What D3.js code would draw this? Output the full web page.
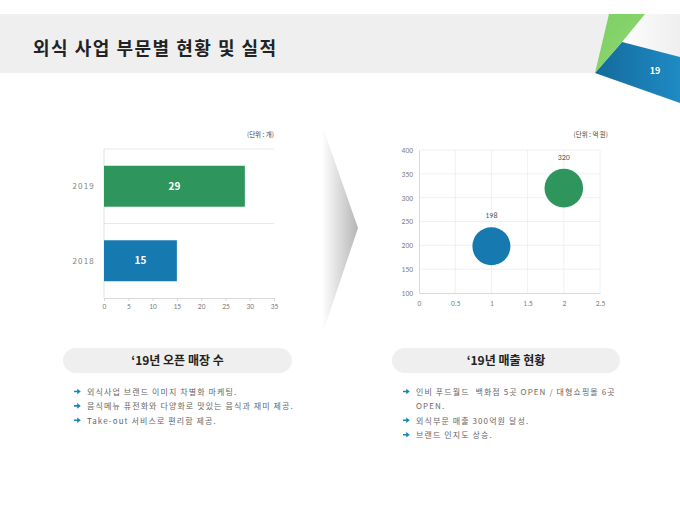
<!DOCTYPE html>
<html>
<head>
<meta charset="utf-8">
<script src="https://cdn.jsdelivr.net/npm/d3@7"></script>
<style>
  body { margin: 0; background: #fff; }
  svg { display: block; font-family: "Noto Sans CJK KR", "Noto Sans", sans-serif; }
  .note { white-space: pre; }
</style>
</head>
<body>
<svg id="page" width="680" height="510"></svg>
<script>
// data
const title = '외식 사업 부문별 현황 및 실적'
const pageNo = '19'

const barYears = ['2019', '2018']
const barValues = [29, 15]
const barTicks = [0, 5, 10, 15, 20, 25, 30, 35]
const barUnit = '(단위 : 개)'

const bubbleX = [1, 2]
const bubbleY = [198, 320]
const bubbleSize = [1, 1.03]
const bubbleXTicks = [0, 0.5, 1, 1.5, 2, 2.5]
const bubbleYTicks = [100, 150, 200, 250, 300, 350, 400]
const bubbleUnit = '(단위 : 억 원)'

const leftHead = '‘19년 오픈 매장 수'
const rightHead = '‘19년 매출 현황'
const leftNotes = [
  ['외식사업 브랜드 이미지 차별화 마케팅.'],
  ['음식메뉴 퓨전화와 다양화로 맛있는 음식과 재미 제공.'],
  ['Take-out 서비스로 편리함 제공.']
]
const rightNotes = [
  ['인비 푸드월드  백화점 5곳 OPEN / 대형쇼핑몰 6곳', 'OPEN.'],
  ['외식부문 매출 300억원 달성.'],
  ['브랜드 인지도 상승.']
]

const green = '#2e965c'
const blue = '#1679b0'
const colors = { '2019': green, '2018': blue }

const svg = d3.select('#page')
const defs = svg.append('defs')

// header band
svg.append('rect').attr('x', 0).attr('y', 14).attr('width', 680).attr('height', 59).attr('fill', '#efefef')
svg.append('text')
  .attr('x', 33).attr('y', 55)
  .attr('font-size', 18).attr('font-weight', 700).attr('letter-spacing', 1.5).attr('fill', '#222')
  .text(title)

// corner decoration
const shade = defs.append('linearGradient').attr('id', 'shade').attr('x1', 0).attr('y1', 0).attr('x2', 1).attr('y2', 0)
shade.append('stop').attr('offset', 0).attr('stop-color', '#ffffff').attr('stop-opacity', 0.9)
shade.append('stop').attr('offset', 1).attr('stop-color', '#ffffff').attr('stop-opacity', 0)
svg.append('polygon').attr('points', '645,14 680,14 680,57 622,42').attr('fill', 'url(#shade)')
const blueGrad = defs.append('linearGradient').attr('id', 'blueGrad').attr('x1', 0).attr('y1', 0).attr('x2', 1).attr('y2', 0)
blueGrad.append('stop').attr('offset', 0).attr('stop-color', '#136b9c')
blueGrad.append('stop').attr('offset', 1).attr('stop-color', '#1f8ac4')
svg.append('polygon').attr('points', '595,73 622,42 680,57 680,103').attr('fill', 'url(#blueGrad)')
const greenGrad = defs.append('linearGradient').attr('id', 'greenGrad').attr('x1', 0).attr('y1', 0).attr('x2', 1).attr('y2', 1)
greenGrad.append('stop').attr('offset', 0).attr('stop-color', '#7dcf65')
greenGrad.append('stop').attr('offset', 1).attr('stop-color', '#8fd870')
svg.append('polygon').attr('points', '609,14 645,14 622,42 595,73').attr('fill', 'url(#greenGrad)')
svg.append('text')
  .attr('x', 655).attr('y', 74).attr('text-anchor', 'middle')
  .attr('font-size', 9).attr('font-weight', 700).attr('fill', '#fff')
  .text(pageNo)

// chevron between charts
const chev = defs.append('linearGradient').attr('id', 'chev').attr('x1', 0).attr('y1', 0).attr('x2', 1).attr('y2', 0)
chev.append('stop').attr('offset', 0).attr('stop-color', '#ffffff')
chev.append('stop').attr('offset', 1).attr('stop-color', '#b5b5b5')
svg.append('polygon').attr('points', '322,125 358,228 322,335').attr('fill', 'url(#chev)')

// bar chart
const bx = d3.scaleLinear().domain([0, 35]).range([104, 274])
const by = d3.scaleBand().domain(barYears).range([149, 298]).paddingInner(0.45).paddingOuter(0.225)
const bar = svg.append('g')

bar.selectAll('line.grid')
  .data([149, 223.5])
  .join('line').attr('class', 'grid')
  .attr('x1', bx(0)).attr('x2', bx(35)).attr('y1', d => d).attr('y2', d => d)
  .attr('stroke', '#e3e3e3').attr('stroke-width', 0.8)

bar.append('line').attr('x1', bx(0)).attr('x2', bx(0)).attr('y1', 149).attr('y2', 298)
  .attr('stroke', '#d9d9d9').attr('stroke-width', 0.8)

const bAxis = bar.append('g').attr('transform', 'translate(0,298)')
  .call(d3.axisBottom(bx).tickValues(barTicks).tickSize(3).tickPadding(3))
bAxis.selectAll('path, line').attr('stroke', '#d9d9d9')
bAxis.selectAll('text').attr('fill', '#808080').attr('font-size', 7.5).attr('font-family', 'Calibri, "Liberation Sans", sans-serif')

bar.selectAll('rect.bar')
  .data(barYears)
  .join('rect').attr('class', 'bar')
  .attr('x', bx(0))
  .attr('y', d => by(d))
  .attr('width', (d, i) => bx(barValues[i]) - bx(0))
  .attr('height', by.bandwidth())
  .attr('fill', d => colors[d])

bar.selectAll('text.val')
  .data(barYears)
  .join('text').attr('class', 'val')
  .attr('x', (d, i) => (bx(0) + bx(barValues[i])) / 2)
  .attr('y', d => by(d) + by.bandwidth() / 2 + 3.5)
  .attr('text-anchor', 'middle').attr('font-size', 10).attr('font-weight', 700).attr('fill', '#fff')
  .text((d, i) => barValues[i])

bar.selectAll('text.cat')
  .data(barYears)
  .join('text').attr('class', 'cat')
  .attr('x', 95)
  .attr('y', d => by(d) + by.bandwidth() / 2 + 3)
  .attr('text-anchor', 'end').attr('font-size', 8).attr('letter-spacing', 1.2).attr('fill', '#7f7f7f')
  .text(d => d)

bar.append('text').attr('x', 274).attr('y', 137).attr('text-anchor', 'end')
  .attr('font-size', 6.5).attr('fill', '#404040').text(barUnit)

// bubble chart
const sx = d3.scaleLinear().domain([0, 2.5]).range([419, 600])
const sy = d3.scaleLinear().domain([100, 400]).range([293, 150])
const sr = d3.scaleSqrt().domain([0, 1]).range([0, 19])
const bub = svg.append('g')

bub.selectAll('line.hg')
  .data(bubbleYTicks.slice(1))
  .join('line').attr('class', 'hg')
  .attr('x1', sx(0)).attr('x2', sx(2.5)).attr('y1', d => sy(d)).attr('y2', d => sy(d))
  .attr('stroke', '#ececec').attr('stroke-width', 0.8)
bub.selectAll('line.vg')
  .data(bubbleXTicks.slice(1))
  .join('line').attr('class', 'vg')
  .attr('x1', d => sx(d)).attr('x2', d => sx(d)).attr('y1', sy(100)).attr('y2', sy(400))
  .attr('stroke', '#ececec').attr('stroke-width', 0.8)

const xAx = bub.append('g').attr('transform', `translate(0,${sy(100)})`)
  .call(d3.axisBottom(sx).tickValues(bubbleXTicks).tickFormat(d3.format('~g')).tickSize(0).tickPadding(8))
const yAx = bub.append('g').attr('transform', `translate(${sx(0)},0)`)
  .call(d3.axisLeft(sy).tickValues(bubbleYTicks).tickSize(0).tickPadding(6))
;[xAx, yAx].forEach(a => {
  a.select('path').attr('stroke', '#d9d9d9')
  a.selectAll('text').attr('fill', '#808080').attr('font-size', 7.5).attr('font-family', 'Calibri, "Liberation Sans", sans-serif')
})

bub.selectAll('circle')
  .data(bubbleX)
  .join('circle')
  .attr('cx', d => sx(d))
  .attr('cy', (d, i) => sy(bubbleY[i]))
  .attr('r', (d, i) => sr(bubbleSize[i]))
  .attr('fill', (d, i) => i === 0 ? blue : green)

bub.selectAll('text.lab')
  .data(bubbleX)
  .join('text').attr('class', 'lab')
  .attr('x', d => sx(d))
  .attr('y', (d, i) => sy(bubbleY[i]) - sr(bubbleSize[i]) - 9)
  .attr('text-anchor', 'middle').attr('font-size', 8).attr('fill', '#595959')
  .attr('font-family', 'Calibri, "Liberation Sans", sans-serif')
  .text((d, i) => bubbleY[i])

bub.append('text').attr('x', 608).attr('y', 137).attr('text-anchor', 'end')
  .attr('font-size', 6.5).attr('fill', '#404040').text(bubbleUnit)

// captions + notes
const drawBlock = (x0, w, head, notes) => {
  const g = svg.append('g')
  g.append('rect').attr('x', x0).attr('y', 348).attr('width', w).attr('height', 25).attr('rx', 12.5)
    .attr('fill', '#efefef')
  g.append('text').attr('x', x0 + w / 2).attr('y', 365).attr('text-anchor', 'middle')
    .attr('font-size', 12).attr('font-weight', 700).attr('fill', '#222').text(head)
  let y = 395
  notes.forEach(lines => {
    g.append('path')
      .attr('d', `M${x0 + 11},${y - 4.3}h3.2v-2l3.6,2.8l-3.6,2.8v-2h-3.2z`)
      .attr('fill', '#1b86b6')
    lines.forEach(t => {
      g.append('text').attr('class', 'note').attr('x', x0 + 24).attr('y', y)
        .attr('font-size', 8).attr('letter-spacing', 1.1).attr('fill', '#666').text(t)
      y += 14.4
    })
  })
}
drawBlock(63, 229, leftHead, leftNotes)
drawBlock(392, 228, rightHead, rightNotes)
</script>
</body>
</html>
